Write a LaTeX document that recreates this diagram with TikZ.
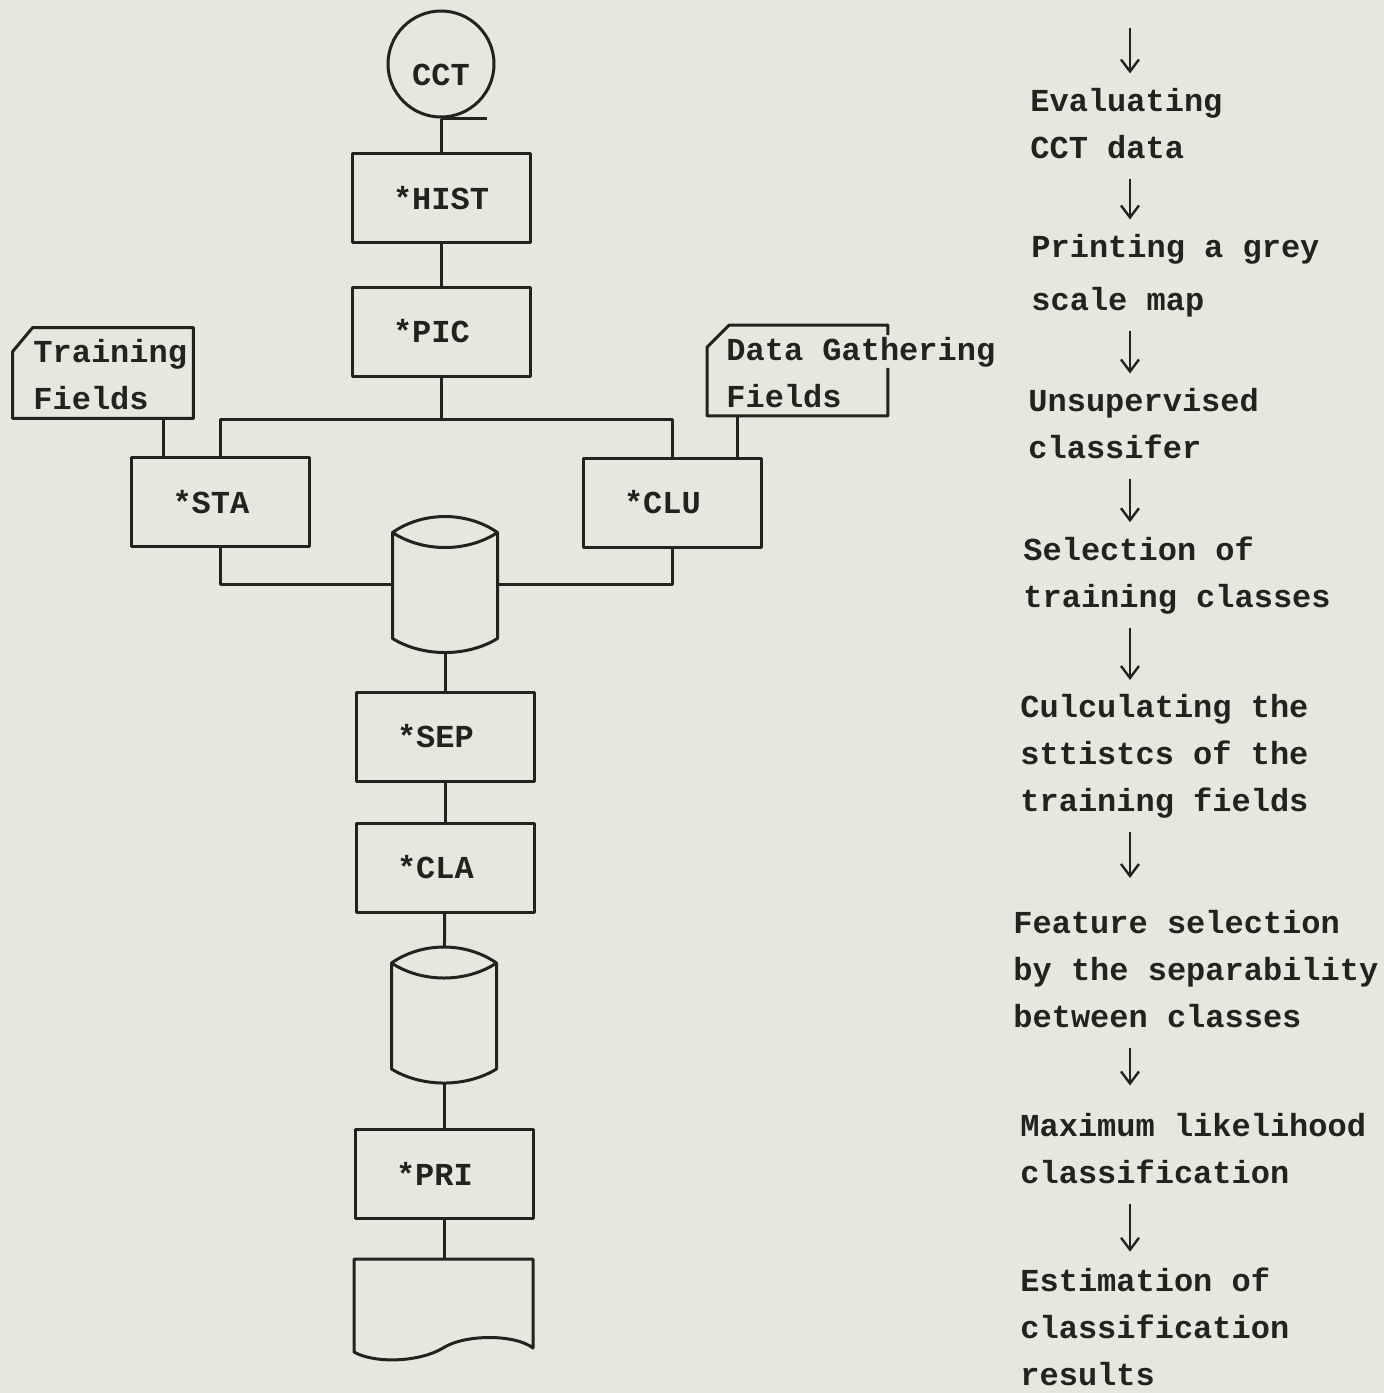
\documentclass[tikz,border=0pt]{standalone}
\usepackage{fontspec}
\setmonofont{Liberation Mono}
\usetikzlibrary{arrows.meta}

\definecolor{paper}{RGB}{230,232,222}
\definecolor{ink}{RGB}{36,34,31}

% disk store, drawn round its centre
\tikzset{
  drum/.pic={
    \draw[wire] (-52.5,-52) .. controls (-22,-73.3) and (22,-73.3) .. (52.5,-52)
      .. controls (22,-32) and (-22,-32) .. (-52.5,-52)
      -- (-52.5,54) .. controls (-22,72.7) and (22,72.7) .. (52.5,54) -- (52.5,-52);
    \node[inner sep=0pt, minimum width=52.5pt, minimum height=68pt] (-body) {};
  }
}

\begin{document}
\begin{tikzpicture}[x=0.5pt,y=-0.5pt,
  every node/.style={font=\ttfamily\bfseries\fontsize{16pt}{23.5pt}\selectfont, text=ink},
  wire/.style={draw=ink, line width=1.5pt, line join=round},
  proc/.style={wire, rectangle, text width=48pt, align=left, inner xsep=20.5pt, inner ysep=0pt, minimum height=44.5pt},
  shell/.style={inner sep=0pt, minimum width=90pt, minimum height=45pt},
  note/.style={anchor=west, align=left, inner sep=0pt, execute at begin node=\strut, execute at end node=\strut},
  flow/.style={draw=ink, line width=1.2pt, -{Straight Barb[length=6pt,width=9pt,line width=1.2pt]}, shorten <=3pt, shorten >=7pt}]
\fill[paper] (0,0) rectangle (1384,1393);
\useasboundingbox (0,0) rectangle (1384,1393);

% program chain
\node[wire, circle, minimum size=53pt, inner sep=0pt, label={[yshift=-5.5pt]center:CCT}] (cct) at (441,64) {};
\node[proc] (hist) at (441,198) {*HIST};
\node[proc] (pic) at (441,331.5) {*PIC};
\node[proc] (sta) at (220.5,502) {*STA};
\node[proc] (clu) at (672,502.5) {*CLU};
\node[proc] (sep) at (445,736.5) {*SEP};
\node[proc] (cla) at (445,867.5) {*CLA};
\node[proc] (pri) at (444,1174) {*PRI};
\pic (disk1) at (445,584.5) {drum};
\pic (disk2) at (444,1015) {drum};

% input cards
\node[shell] (train) at (103,373) {};
\draw[wire] ([yshift=-12pt]train.north west) -- ([xshift=10pt]train.north west) -- (train.north east) -- (train.south east) -- (train.south west) -- cycle;
\node[note] (trainlbl) at (33,381) {Training\\Fields};
\node[shell] (gather) at (797.5,370.5) {};
\draw[wire] ([yshift=-5pt]gather.north east) -- (gather.north east) -- ([xshift=11pt]gather.north west) -- ([yshift=-11pt]gather.north west) -- (gather.south west) -- (gather.south east) -- ([yshift=24pt]gather.south east);
\node[note] (gatherlbl) at (726,379.5) {Data Gathering\\Fields};

% printed output
\node[shell, minimum width=89.5pt, minimum height=46.5pt] (report) at (444,1305.5) {};
\draw[wire] (354,1352) -- (354,1259) -- (533,1259) -- (533,1348) .. controls (515,1334) and (465,1334) .. (443,1348) .. controls (420,1362) and (375,1364) .. (354,1352) -- cycle;

% connections
\draw[wire] (cct.south) -- ++(46,0);
\draw[wire] (cct) -- (hist);
\draw[wire] (hist) -- (pic);
\coordinate (split) at (441,419);
\draw[wire] (pic) -- (split);
\draw[wire] (sta.north) |- (split) -| (clu.north);
\draw[wire] ([xshift=-15pt]train.south east) -- ++(0,40);
\draw[wire] ([xshift=15pt]gather.south west) -- ++(0,42);
\draw[wire] (sta.south) |- (disk1-body.west);
\draw[wire] (clu.south) |- (disk1-body.east);
\draw[wire] (disk1-body) -- (sep);
\draw[wire] (sep) -- (cla);
\draw[wire] (cla) -- (disk2-body);
\draw[wire] (disk2-body) -- (pri);
\draw[wire] (pri) -- (report);

% processing steps
\coordinate (ax) at (1130,0);
\coordinate (lead) at (1130,22);
\node[note] (eval) at (1030,130) {Evaluating\\CCT data};
\node[note] (print) at (1031,279) {Printing a grey\\[3pt]scale map};
\node[note] (unsup) at (1028,430) {Unsupervised\\classifer};
\node[note] (select) at (1023,579) {Selection of\\training classes};
\node[note] (stats) at (1020,760) {Culculating the\\sttistcs of the\\training fields};
\node[note] (feat) at (1013,976) {Feature selection\\by the separability\\between classes};
\node[note] (maxl) at (1020,1155) {Maximum likelihood\\classification};
\node[note] (estim) at (1020,1334) {Estimation of\\classification\\results};
\draw[flow] (lead) -- (eval.north -| ax);
\foreach \a/\b/\s in {eval/print/7pt, print/unsup/7pt, unsup/select/7pt, select/stats/7pt, stats/feat/16pt, feat/maxl/13.5pt, maxl/estim/8pt}
  \draw[flow, shorten >=\s] (\a.south -| ax) -- (\b.north -| ax);
\end{tikzpicture}
\end{document}
